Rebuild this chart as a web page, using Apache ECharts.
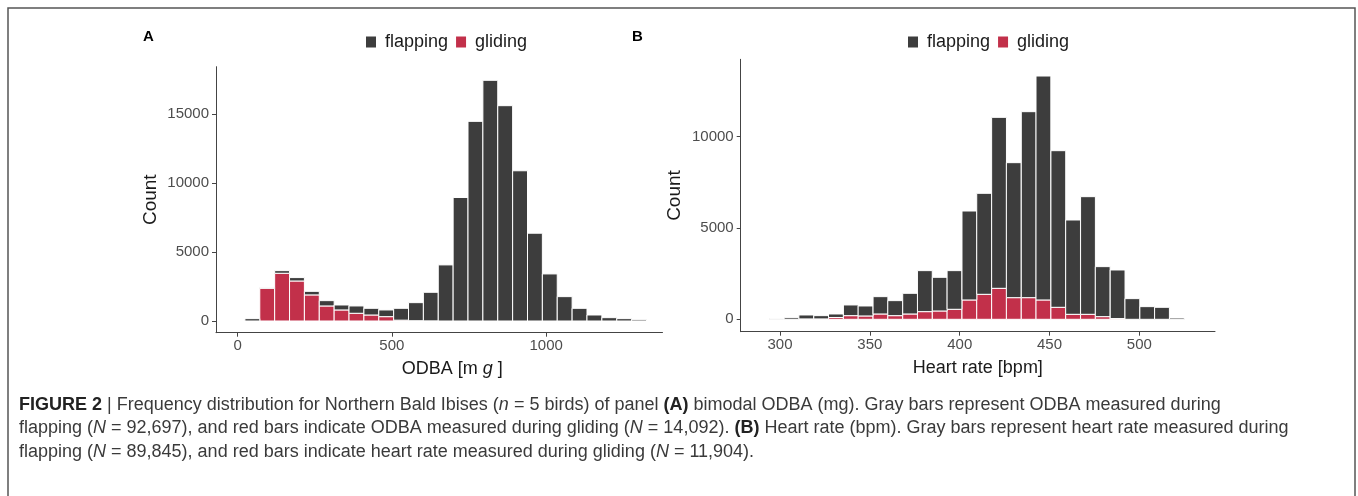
<!DOCTYPE html>
<html>
<head>
<meta charset="utf-8">
<script src="https://cdn.jsdelivr.net/npm/echarts@6/dist/echarts.min.js"></script>
<style>
html,body{margin:0;padding:0;background:#fff;}
#c{width:1358px;height:496px;}
</style>
</head>
<body>
<div id="c"></div>
<script>
// ---------- data ----------
const seriesNames = ['flapping', 'gliding'];

// Panel A: ODBA histogram (bin centres, mg)
const odbaBinWidth = 48.2;
const odbaCenters = [47.8, 96.0, 144.2, 192.4, 240.6, 288.8, 337.0, 385.2, 433.4, 481.6, 529.8, 578.0, 626.2, 674.4, 722.6, 770.8, 819.0, 867.2, 915.4, 963.6, 1011.8, 1060.0, 1108.2, 1156.4, 1204.6, 1252.8, 1301.0];
const odbaGliding  = [0, 2370, 3460, 2900, 1890, 1090, 800, 560, 435, 315, 60, 20, 10, 0, 0, 0, 0, 0, 0, 0, 0, 0, 0, 0, 0, 0, 0];
const odbaFlapping = [170, 50, 190, 246, 260, 385, 360, 530, 485, 485, 860, 1310, 2070, 4065, 8950, 14466, 17441, 15603, 10886, 6362, 3411, 1766, 919, 435, 242, 170, 90];

// Panel B: heart rate histogram (bin centres, bpm)
const hrBinWidth = 8.25;
const hrCenters = [298.1, 306.4, 314.6, 322.9, 331.1, 339.4, 347.6, 355.9, 364.1, 372.4, 380.6, 388.9, 397.1, 405.4, 413.6, 421.9, 430.1, 438.4, 446.6, 454.9, 463.1, 471.4, 479.6, 487.9, 496.1, 504.4, 512.6, 520.9];
const hrGliding  = [0, 0, 20, 20, 100, 200, 183, 292, 200, 292, 420, 456, 548, 1059, 1369, 1697, 1186, 1186, 1059, 657, 274, 274, 146, 40, 0, 0, 0, 0];
const hrFlapping = [40, 90, 217, 180, 192, 585, 547, 949, 822, 1132, 2245, 1844, 2117, 4872, 5530, 9363, 7392, 10184, 12264, 8578, 5165, 6442, 2738, 2661, 1132, 694, 657, 73];

// tick labels
const odbaTicks = [0, 500, 1000];
const countTicksA = [0, 5000, 10000, 15000];
const hrTicks = [300, 350, 400, 450, 500];
const countTicksB = [0, 5000, 10000];

// ---------- styles ----------
const DARK = '#3d3d3d';
const RED = '#c2304a';
const FONT = 'Liberation Sans, Arial, Helvetica, sans-serif';

function stacked(centers, width, lower, upper, upperOnTop) {
  return centers.map((c, i) => {
    const base = upperOnTop ? lower[i] : 0;
    const top = upperOnTop ? lower[i] + upper[i] : lower[i];
    return [c - width / 2, c + width / 2, base, top];
  });
}

function renderBar(params, api) {
  const y0 = api.value(2), y1 = api.value(3);
  if (y1 - y0 <= 0) return null;
  const p0 = api.coord([api.value(0), y1]);
  const p1 = api.coord([api.value(1), y0]);
  return {
    type: 'rect',
    shape: { x: p0[0], y: p0[1], width: p1[0] - p0[0], height: p1[1] - p0[1] },
    style: { fill: api.visual('color'), stroke: '#ffffff', lineWidth: 1 }
  };
}

const plain = v => String(v);

function xAxisCfg(gridIndex, min, max, ticks, name, nameStyle) {
  return {
    type: 'value', gridIndex, min, max,
    splitLine: { show: false },
    axisLine: { onZero: false, lineStyle: { color: '#444', width: 1 } },
    axisTick: { customValues: ticks, length: 4, lineStyle: { color: '#444' } },
    axisLabel: { customValues: ticks, formatter: plain, color: '#4d4d4d', fontSize: 15, fontFamily: FONT, margin: 6 },
    name, nameLocation: 'middle', nameGap: 27,
    nameTextStyle: nameStyle
  };
}
function yAxisCfg(gridIndex, min, max, ticks) {
  return {
    type: 'value', gridIndex, min, max,
    splitLine: { show: false },
    axisLine: { onZero: false, lineStyle: { color: '#444', width: 1 } },
    axisTick: { customValues: ticks, length: 4, lineStyle: { color: '#444' } },
    axisLabel: { customValues: ticks, formatter: plain, color: '#4d4d4d', fontSize: 15, fontFamily: FONT, margin: 7 },
    name: 'Count', nameLocation: 'middle', nameGap: 56, nameRotate: 90,
    nameTextStyle: { color: '#1a1a1a', fontSize: 19, fontFamily: FONT }
  };
}

const legendCommon = {
  data: seriesNames, icon: 'rect', itemWidth: 10, itemHeight: 11, itemGap: 8,
  textStyle: { fontSize: 18, color: '#1a1a1a', fontFamily: FONT, padding: [0, 0, 0, 4] },
  selectedMode: false
};

const CAP = 18;
const option = {
  animation: false,
  backgroundColor: '#ffffff',
  grid: [
    { left: 216, top: 66.7, width: 446.5, height: 266 },
    { left: 740.7, top: 59.3, width: 474.3, height: 272.4 }
  ],
  legend: [
    Object.assign({ left: 361, top: 28 }, legendCommon),
    Object.assign({ left: 903, top: 28 }, legendCommon)
  ],
  xAxis: [
    xAxisCfg(0, -70, 1377, odbaTicks, 'ODBA [m {i|g} ]', {
      color: '#1a1a1a', fontSize: 18, fontFamily: FONT, padding: [0, 0, 0, 26],
      rich: { i: { fontStyle: 'italic', fontSize: 18, color: '#1a1a1a', fontFamily: FONT } }
    }),
    xAxisCfg(1, 278.1, 542.1, hrTicks, 'Heart rate [bpm]', {
      color: '#1a1a1a', fontSize: 18, fontFamily: FONT
    })
  ],
  yAxis: [
    yAxisCfg(0, -848, 18428, countTicksA),
    yAxisCfg(1, -679, 14239, countTicksB)
  ],
  series: [
    { name: 'gliding', type: 'custom', xAxisIndex: 0, yAxisIndex: 0, itemStyle: { color: RED },
      renderItem: renderBar, data: stacked(odbaCenters, odbaBinWidth, odbaGliding, null, false) },
    { name: 'flapping', type: 'custom', xAxisIndex: 0, yAxisIndex: 0, itemStyle: { color: DARK },
      renderItem: renderBar, data: stacked(odbaCenters, odbaBinWidth, odbaGliding, odbaFlapping, true) },
    { name: 'gliding', type: 'custom', xAxisIndex: 1, yAxisIndex: 1, itemStyle: { color: RED },
      renderItem: renderBar, data: stacked(hrCenters, hrBinWidth, hrGliding, null, false) },
    { name: 'flapping', type: 'custom', xAxisIndex: 1, yAxisIndex: 1, itemStyle: { color: DARK },
      renderItem: renderBar, data: stacked(hrCenters, hrBinWidth, hrGliding, hrFlapping, true) }
  ],
  graphic: [
    { type: 'polyline', silent: true, shape: { points: [[8, 496], [8, 8], [1355, 8], [1355, 496]] },
      style: { stroke: '#555', lineWidth: 1.5, fill: null } },
    { type: 'text', left: 143, top: 29, style: { text: 'A', font: 'bold 15px ' + FONT, fill: '#000' } },
    { type: 'text', left: 632, top: 29, style: { text: 'B', font: 'bold 15px ' + FONT, fill: '#000' } },
    { type: 'text', left: 19, top: 393,
      style: {
        text: '{b|FIGURE 2} | Frequency distribution for Northern Bald Ibises ({i|n} = 5 birds) of panel {b|(A)} bimodal ODBA (mg). Gray bars represent ODBA measured during\n' +
              'flapping ({i|N} = 92,697), and red bars indicate ODBA measured during gliding ({i|N} = 14,092). {b|(B)} Heart rate (bpm). Gray bars represent heart rate measured during\n' +
              'flapping ({i|N} = 89,845), and red bars indicate heart rate measured during gliding ({i|N} = 11,904).',
        font: CAP + 'px ' + FONT, fill: '#3a3a3a', lineHeight: 23.5,
        rich: {
          b: { fontWeight: 'bold', fontSize: CAP, fontFamily: FONT, fill: '#222', lineHeight: 23.5 },
          i: { fontStyle: 'italic', fontSize: CAP, fontFamily: FONT, fill: '#3a3a3a', lineHeight: 23.5 }
        }
      }
    }
  ]
};

const chart = echarts.init(document.getElementById('c'), null, { renderer: 'canvas' });
chart.setOption(option);
</script>
</body>
</html>
